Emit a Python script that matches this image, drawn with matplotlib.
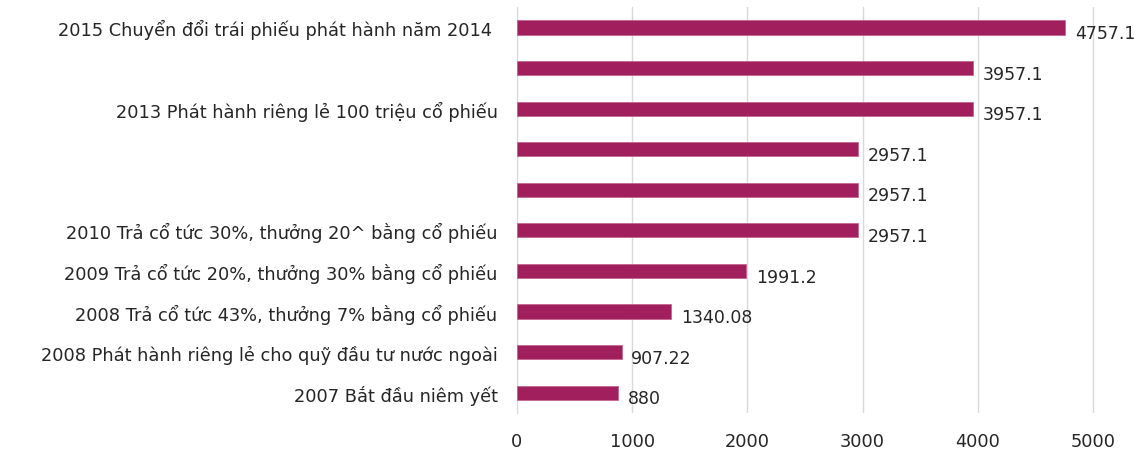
import matplotlib
matplotlib.use("Agg")
from matplotlib import pyplot as plt

plt.rcParams['font.family'] = ['DejaVu Sans']

labels = [
    "2007 Bắt đầu niêm yết",
    "2008 Phát hành riêng lẻ cho quỹ đầu tư nước ngoài",
    "2008 Trả cổ tức 43%, thưởng 7% bằng cổ phiếu",
    "2009 Trả cổ tức 20%, thưởng 30% bằng cổ phiếu",
    "2010 Trả cổ tức 30%, thưởng 20^ bằng cổ phiếu",
    "",
    "",
    "2013 Phát hành riêng lẻ 100 triệu cổ phiếu",
    "",
    "2015 Chuyển đổi trái phiếu phát hành năm 2014 ",
]
values = [880, 907.22, 1340.08, 1991.2, 2957.1, 2957.1, 2957.1, 3957.1, 3957.1, 4757.1]
xticks = [0, 1000, 2000, 3000, 4000, 5000]

bar_color = "#A21F5E"
text_color = "#262626"
grid_color = "#D9D9D9"

fig = plt.figure(figsize=(11.34, 4.52), dpi=100)
ax = fig.add_axes([517 / 1134, 0.084, 583 / 1134, 0.898])

pos = list(range(len(values)))
ax.barh(pos, values, height=0.35, color=bar_color, edgecolor="#C4668F", linewidth=0.6, zorder=3)

for y, v in zip(pos, values):
    ax.annotate(f"{v:g}", (v, y), xytext=(7, -4), textcoords="offset points",
                ha="left", va="center", fontsize=12.5, color=text_color)

ax.set_xlim(0, 5061)
ax.set_ylim(-0.5, len(values) - 0.5)
ax.set_xticks(xticks)
ax.set_yticks(pos)
ax.set_yticklabels(labels)
ax.tick_params(axis="both", length=0, labelsize=12.8, labelcolor=text_color)
ax.tick_params(axis="y", pad=14)
ax.tick_params(axis="x", pad=14)
ax.grid(axis="x", color=grid_color, linewidth=1, zorder=0)
for s in ["top", "right", "bottom"]:
    ax.spines[s].set_visible(False)
ax.spines["left"].set_color(grid_color)

fig.savefig("out.png", dpi=100)
